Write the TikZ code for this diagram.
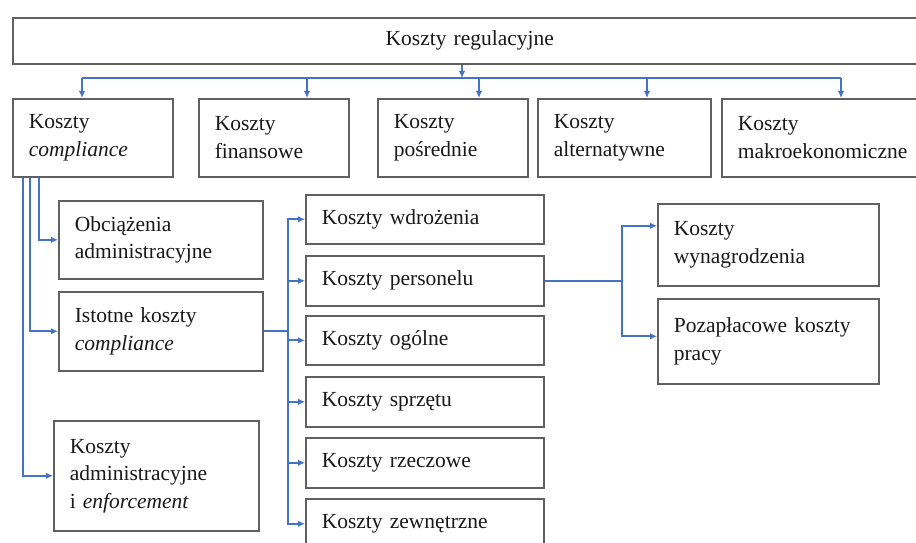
\documentclass[tikz,border=0pt]{standalone}
\usepackage{fontspec}
\setmainfont{Liberation Serif}
\usetikzlibrary{arrows.meta,calc}
\definecolor{lnblue}{HTML}{4472C4}
\definecolor{bord}{HTML}{606060}
\begin{document}
\begin{tikzpicture}[x=1pt,y=-1pt,
  box/.style={draw=bord, line width=1.6pt, fill=white, anchor=north west, align=left,
    inner xsep=16pt, inner ysep=0pt, font={\fontsize{21.5}{27.5}\selectfont}, text=black!90},
  conn/.style={draw=lnblue, line width=1.7pt},
  arr/.style={conn, -{Latex[length=7pt,width=6.5pt]}}]
\useasboundingbox (0,0) rectangle (916,543);
\clip (0,0) rectangle (916,543);
% top
\node[box, align=center, text width=882pt, minimum height=46pt] (top) at (12,17) {Koszty regulacyjne};
% second row
\node[box, text width=128pt, minimum height=78pt] (k1) at (12,98) {Koszty\\\textit{compliance}};
\node[box, text width=118pt, minimum height=78pt] (k2) at (198,98) {Koszty\\finansowe};
\node[box, text width=118pt, minimum height=78pt] (k3) at (377,98) {Koszty\\pośrednie};
\node[box, text width=141pt, minimum height=78pt] (k4) at (537,98) {Koszty\\alternatywne};
\node[box, text width=190pt, minimum height=78pt] (k5) at (721,98) {Koszty\\makroekonomiczne};
% left column
\node[box, text width=172pt, minimum height=78pt] (obc) at (58,200) {Obciążenia\\administracyjne};
\node[box, text width=172pt, minimum height=79pt] (ist) at (58,291) {Istotne koszty\\\textit{compliance}};
\node[box, text width=173pt, minimum height=110pt] (adm) at (53,420) {Koszty\\administracyjne\\i \textit{enforcement}};
% middle column
\node[box, text width=206pt, minimum height=49pt] (w1) at (305,194) {Koszty wdrożenia};
\node[box, text width=206pt, minimum height=50pt] (w2) at (305,255) {Koszty personelu};
\node[box, text width=206pt, minimum height=49pt] (w3) at (305,315) {Koszty ogólne};
\node[box, text width=206pt, minimum height=50pt] (w4) at (305,376) {Koszty sprzętu};
\node[box, text width=206pt, minimum height=50pt] (w5) at (305,437) {Koszty rzeczowe};
\node[box, text width=206pt, minimum height=50pt] (w6) at (305,498) {Koszty zewnętrzne};
% right column
\node[box, text width=189pt, minimum height=82pt] (wyn) at (657,203) {Koszty\\wynagrodzenia};
\node[box, text width=189pt, minimum height=85pt] (poz) at (657,298) {Pozapłacowe koszty\\pracy};
% top connectors
\coordinate (ab) at (462,78);
\coordinate (a1) at (82,78);
\coordinate (a2) at (307,78);
\coordinate (a3) at (479,78);
\coordinate (a4) at (647,78);
\coordinate (a5) at (841,78);
\draw[arr] (top.south -| ab) -- (ab);
\draw[conn] (a1) -- (a5);
\draw[arr] (a1) -- (a1 |- k1.north);
\draw[arr] (a2) -- (a2 |- k2.north);
\draw[arr] (a3) -- (a3 |- k3.north);
\draw[arr] (a4) -- (a4 |- k4.north);
\draw[arr] (a5) -- (a5 |- k5.north);
% left connectors
\coordinate (b1) at (39,0);
\coordinate (b2) at (30,0);
\coordinate (b3) at (23,0);
\draw[arr] (b1 |- k1.south) |- (obc.west);
\draw[arr] (b2 |- k1.south) |- (ist.west);
\draw[arr] (b3 |- k1.south) |- (adm.west);
% middle connectors
\coordinate (m) at (288,0);
\draw[conn] (ist.east) -- (ist.east -| m);
\foreach \i in {1,...,6} {\draw[arr] (m |- ist.east) |- (w\i.west);}
% right connectors
\coordinate (r) at (622,0);
\draw[conn] (w2.east) -- (w2.east -| r);
\draw[arr] (r |- w2.east) |- ($(wyn.west)+(0,-19)$);
\draw[arr] (r |- w2.east) |- ($(poz.west)+(0,-5)$);
\end{tikzpicture}
\end{document}
